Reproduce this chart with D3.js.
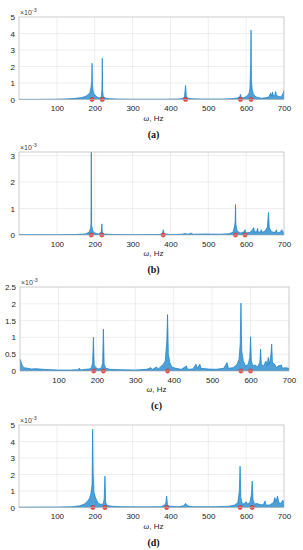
<!DOCTYPE html>
<html>
<head>
<meta charset="utf-8">
<script src="https://cdn.jsdelivr.net/npm/d3@7"></script>
<style>
  body { margin: 0; background: #fff; }
  svg { display: block; }
</style>
</head>
<body>
<div id="chart"></div>
<script>
// amplitude values are in units of 1e-3
const xTicks = [100, 200, 300, 400, 500, 600, 700];

const spectrumA = [[0,0.01],[50,0.01],[100,0.02],[130,0.04],[150,0.07],[165,0.12],[175,0.18],[182,0.28],[187,0.42],[190,0.7],[192,1.1],[193,2.2],[194,0.9],[196,0.5],[198,0.35],[202,0.25],[206,0.15],[212,0.1],[217,0.12],[219,0.6],[220,2.5],[221,0.5],[223,0.15],[230,0.08],[240,0.05],[260,0.03],[300,0.02],[380,0.02],[420,0.03],[432,0.06],[437,0.15],[440,0.85],[442,0.2],[446,0.08],[455,0.05],[480,0.03],[540,0.03],[560,0.05],[575,0.08],[583,0.15],[585,0.32],[587,0.12],[592,0.1],[598,0.15],[604,0.25],[608,0.4],[610,0.7],[612,2.05],[613,4.2],[614,1.2],[616,0.6],[619,0.35],[623,0.2],[630,0.12],[640,0.08],[650,0.1],[660,0.15],[665,0.4],[667,0.2],[670,0.45],[672,0.2],[676,0.3],[678,0.48],[680,0.25],[685,0.2],[690,0.15],[695,0.25],[698,0.4],[700,0.55]];
const markersA = [193, 220, 440, 585, 613];
const yTicksA = [0, 1, 2, 3, 4, 5];

const spectrumB = [[0,0.01],[100,0.01],[150,0.02],[175,0.04],[185,0.1],[189,0.25],[190,0.4],[191,3.13],[192,0.35],[195,0.15],[200,0.08],[210,0.04],[217,0.1],[219,0.42],[220,0.1],[225,0.04],[250,0.02],[300,0.01],[370,0.02],[379,0.05],[381,0.2],[383,0.05],[400,0.02],[430,0.03],[440,0.06],[445,0.03],[455,0.07],[460,0.03],[490,0.04],[530,0.03],[555,0.05],[565,0.1],[569,0.3],[571,0.5],[572,1.15],[573,0.4],[576,0.15],[585,0.08],[595,0.12],[597,0.2],[599,0.08],[610,0.1],[617,0.2],[620,0.28],[622,0.12],[628,0.12],[630,0.25],[632,0.1],[638,0.12],[640,0.2],[643,0.1],[650,0.15],[656,0.3],[659,0.85],[661,0.3],[665,0.15],[672,0.1],[678,0.12],[680,0.2],[682,0.08],[690,0.1],[694,0.2],[697,0.12],[700,0.05]];
const markersB = [191, 219, 381, 572, 597];
const yTicksB = [0, 1, 2, 3];

const spectrumC = [[0,0.35],[2,0.3],[5,0.18],[10,0.1],[20,0.08],[30,0.06],[40,0.07],[60,0.05],[80,0.04],[100,0.03],[130,0.03],[150,0.04],[155,0.08],[158,0.03],[170,0.05],[180,0.06],[186,0.1],[189,0.25],[191,1.0],[193,0.2],[197,0.1],[205,0.06],[212,0.1],[215,0.25],[217,1.25],[219,0.2],[223,0.08],[235,0.05],[260,0.04],[300,0.03],[330,0.05],[340,0.1],[345,0.05],[355,0.12],[360,0.06],[368,0.15],[373,0.2],[378,0.3],[382,0.9],[384,1.68],[386,0.5],[390,0.25],[395,0.12],[405,0.08],[420,0.05],[433,0.15],[436,0.05],[450,0.06],[458,0.2],[461,0.08],[468,0.2],[471,0.08],[490,0.06],[510,0.05],[530,0.08],[539,0.25],[542,0.08],[555,0.1],[565,0.2],[570,0.35],[573,0.8],[575,2.02],[577,0.6],[581,0.3],[587,0.15],[594,0.2],[598,0.4],[600,1.02],[602,0.3],[606,0.15],[612,0.18],[618,0.12],[624,0.25],[626,0.65],[628,0.2],[634,0.15],[640,0.3],[643,0.15],[646,0.4],[649,0.2],[653,0.5],[655,0.8],[657,0.25],[663,0.2],[666,0.1],[672,0.15],[680,0.18],[683,0.08],[690,0.1],[700,0.08]];
const markersC = [192, 217, 384, 575, 600];
const yTicksC = [0, 0.5, 1, 1.5, 2, 2.5];

const spectrumD = [[0,0.02],[50,0.03],[100,0.03],[140,0.05],[160,0.1],[172,0.2],[180,0.35],[186,0.55],[190,0.85],[193,1.4],[194.5,4.75],[196,2.0],[198,0.9],[202,0.6],[206,0.4],[210,0.25],[215,0.2],[222,0.2],[225,0.5],[227,1.9],[229,0.3],[233,0.12],[245,0.08],[270,0.05],[330,0.04],[375,0.05],[385,0.15],[388,0.3],[390,0.7],[392,0.2],[396,0.08],[420,0.05],[435,0.1],[440,0.25],[445,0.1],[460,0.05],[520,0.05],[555,0.08],[570,0.15],[578,0.3],[582,1.0],[584,2.5],[586,0.6],[590,0.2],[596,0.25],[600,0.35],[604,0.2],[610,0.3],[614,0.8],[616,1.6],[618,0.5],[622,0.2],[628,0.25],[634,0.2],[645,0.15],[650,0.4],[652,0.15],[662,0.15],[672,0.3],[676,0.6],[679,0.35],[683,0.7],[686,0.3],[692,0.25],[697,0.45],[700,0.3]];
const markersD = [195, 227, 390, 584, 616];
const yTicksD = [0, 1, 2, 3, 4, 5];

const panels = [
    {id: "a", data: spectrumA, marks: markersA, yTicks: yTicksA, yMax: 5, left: 19, right: 284, top: 17, bottom: 99.5},
    {id: "b", data: spectrumB, marks: markersB, yTicks: yTicksB, yMax: 3.13, left: 19, right: 284, top: 152, bottom: 235},
    {id: "c", data: spectrumC, marks: markersC, yTicks: yTicksC, yMax: 2.5, left: 20, right: 289, top: 287, bottom: 371},
    {id: "d", data: spectrumD, marks: markersD, yTicks: yTicksD, yMax: 5, left: 19, right: 284, top: 425, bottom: 507.5}
];

const svg = d3.select("#chart").append("svg")
    .attr("width", 303)
    .attr("height", 550);

const blue = "#1380c8";
const labelFont = "'Liberation Sans', Arial, sans-serif";

panels.forEach(p => {
    let x = d3.scaleLinear().domain([0, 700]).range([p.left, p.right]);
    let y = d3.scaleLinear().domain([0, p.yMax]).range([p.bottom, p.top]);

    let g = svg.append("g");

    // grid
    g.selectAll(".vgrid").data(xTicks.slice(0, -1)).enter().append("line")
        .attr("x1", d => x(d)).attr("x2", d => x(d))
        .attr("y1", p.top).attr("y2", p.bottom)
        .attr("stroke", "#e2e2e2").attr("stroke-width", 0.6);
    g.selectAll(".hgrid").data(p.yTicks.filter(t => t > 0 && t < p.yMax)).enter().append("line")
        .attr("x1", p.left).attr("x2", p.right)
        .attr("y1", d => y(d)).attr("y2", d => y(d))
        .attr("stroke", "#e2e2e2").attr("stroke-width", 0.6);

    // clip the spectrum to the axes box
    svg.append("clipPath").attr("id", "clip-" + p.id)
        .append("rect")
        .attr("x", p.left).attr("y", p.top)
        .attr("width", p.right - p.left).attr("height", p.bottom - p.top);

    let area = d3.area()
        .x(d => x(d[0]))
        .y0(y(0))
        .y1(d => y(d[1]));

    g.append("path")
        .datum(p.data)
        .attr("clip-path", "url(#clip-" + p.id + ")")
        .attr("d", area)
        .attr("fill", blue)
        .attr("fill-opacity", 0.75)
        .attr("stroke", blue)
        .attr("stroke-width", 0.7)
        .attr("stroke-linejoin", "round");

    // red markers at zero
    g.selectAll(".mark").data(p.marks).enter().append("circle")
        .attr("cx", d => x(d))
        .attr("cy", y(0))
        .attr("r", 2.1)
        .attr("fill", "#ec4b4b")
        .attr("stroke", "#d42a2a")
        .attr("stroke-width", 0.6);

    // axes box
    g.append("rect")
        .attr("x", p.left).attr("y", p.top)
        .attr("width", p.right - p.left).attr("height", p.bottom - p.top)
        .attr("fill", "none")
        .attr("stroke", "#b5b5b5")
        .attr("stroke-width", 0.7);

    let xAxis = g.append("g")
        .attr("transform", "translate(0," + p.bottom + ")")
        .call(d3.axisBottom(x).tickValues(xTicks).tickSize(0).tickPadding(6).tickFormat(d3.format("d")));
    let yAxis = g.append("g")
        .attr("transform", "translate(" + p.left + ",0)")
        .call(d3.axisLeft(y).tickValues(p.yTicks).tickSize(0).tickPadding(4).tickFormat(d => d));

    [xAxis, yAxis].forEach(ax => {
        ax.select(".domain").remove();
        ax.selectAll("text")
            .attr("fill", "#222")
            .style("font-family", labelFont)
            .style("font-size", "8px");
    });

    // exponent label
    let ex = g.append("text")
        .attr("x", p.left + 1)
        .attr("y", p.top - 2.5)
        .attr("fill", "#444")
        .style("font-family", labelFont)
        .style("font-size", "7px");
    ex.append("tspan").text("\u00d710");
    ex.append("tspan").attr("dy", -2.8).style("font-size", "5.3px").text("-3");

    // x label
    let xl = g.append("text")
        .attr("x", (p.left + p.right) / 2 + 2)
        .attr("y", p.bottom + 21)
        .attr("text-anchor", "middle")
        .attr("fill", "#222")
        .style("font-family", labelFont)
        .style("font-size", "8px");
    xl.append("tspan").style("font-style", "italic").style("font-family", "'Liberation Serif', serif").text("\u03c9");
    xl.append("tspan").text(", Hz");

    // caption
    g.append("text")
        .attr("x", (p.left + p.right) / 2 + 2)
        .attr("y", p.bottom + 38)
        .attr("text-anchor", "middle")
        .attr("fill", "#111")
        .style("font-family", "'Liberation Serif', 'Times New Roman', serif")
        .style("font-size", "10px")
        .style("font-weight", "bold")
        .text("(" + p.id + ")");
});
</script>
</body>
</html>
